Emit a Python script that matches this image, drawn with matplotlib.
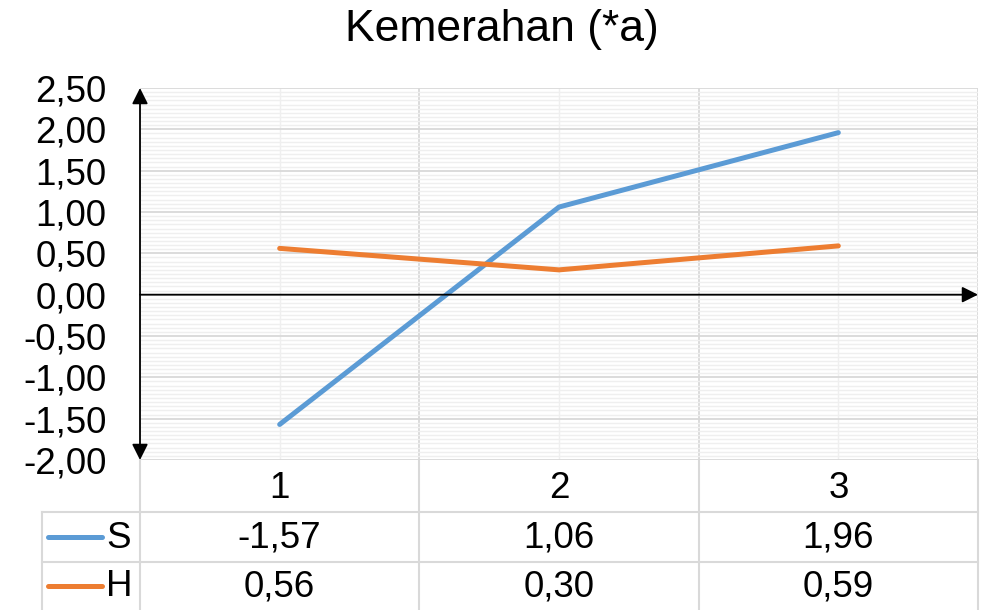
import matplotlib.pyplot as plt
import numpy as np
from matplotlib.ticker import MultipleLocator, FixedLocator, FuncFormatter

plt.rcParams["font.family"] = ["Liberation Sans", "DejaVu Sans"]

title = "Kemerahan (*a)"
categories = ["1", "2", "3"]
series_names = ["S", "H"]
s_values = [-1.57, 1.06, 1.96]
h_values = [0.56, 0.30, 0.59]
colors = ["#5B9BD5", "#ED7D31"]

W, H = 988, 610
fig = plt.figure(figsize=[W / 100, H / 100], dpi=100)
fig.patch.set_facecolor("white")

# plot area in pixels
px_left, px_right, px_top, px_bottom = 140, 978, 88, 460
ax = fig.add_axes([px_left / W, 1 - px_bottom / H,
                   (px_right - px_left) / W, (px_bottom - px_top) / H])

x = np.arange(1, len(categories) + 1)
ax.set_xlim(0.5, len(categories) + 0.5)
ax.set_ylim(-2.0, 2.5)

ax.yaxis.set_major_locator(MultipleLocator(0.5))
ax.yaxis.set_minor_locator(MultipleLocator(0.05))
ax.xaxis.set_major_locator(FixedLocator(np.arange(0.5, len(categories) + 1, 1.0)))
ax.xaxis.set_minor_locator(FixedLocator(x))
ax.grid(which="minor", color="#EFEFEF", linewidth=1.0)
ax.grid(which="major", color="#D9D9D9", linewidth=1.3)
ax.set_axisbelow(True)
ax.yaxis.set_major_formatter(FuncFormatter(lambda v, p: f"{v:.2f}".replace(".", ",")))
ax.tick_params(axis="y", which="both", length=0, labelsize=26.5, pad=24)
ax.tick_params(axis="x", which="both", length=0, labelbottom=False)
for sp in ax.spines.values():
    sp.set_visible(False)

for vals, c in zip([s_values, h_values], colors):
    ax.plot(x, vals, color=c, linewidth=3.6, solid_capstyle="round", zorder=3)

# axes with arrows
ax.annotate("", xy=(0.5, 2.5), xytext=(0.5, -2.0),
            arrowprops=dict(arrowstyle="<|-|>", color="black", lw=1.3,
                            mutation_scale=24, shrinkA=0, shrinkB=0),
            annotation_clip=False, zorder=4)
ax.annotate("", xy=(3.5, 0.0), xytext=(0.5, 0.0),
            arrowprops=dict(arrowstyle="-|>", color="black", lw=1.3,
                            mutation_scale=24, shrinkA=0, shrinkB=0),
            annotation_clip=False, zorder=4)

fig.text(502 / W, 1 - 30 / H, title, fontsize=32, ha="center", va="center")

# data table below the plot, drawn in pixel coordinates
tab = fig.add_axes([0, 0, 1, 1], facecolor="none")
tab.set_xlim(0, W)
tab.set_ylim(H, 0)
tab.set_axis_off()
grid_c = "#D9D9D9"
col_edges = [px_left + i * (px_right - px_left) / len(categories) for i in range(len(categories) + 1)]
row_edges = [px_bottom, 512, 562, H]
key_left = 42
for xe in col_edges:
    tab.plot([xe, xe], [px_bottom, H], color=grid_c, lw=1.5)
tab.plot([key_left, key_left], [row_edges[1], H], color=grid_c, lw=1.5)
for ye in row_edges[1:3]:
    tab.plot([key_left, px_right], [ye, ye], color=grid_c, lw=1.5)

for i, cat in enumerate(categories):
    cx = (col_edges[i] + col_edges[i + 1]) / 2
    tab.text(cx, (row_edges[0] + row_edges[1]) / 2 + 2, cat, ha="center", va="center", fontsize=26.5)

for r, (name, vals, c) in enumerate(zip(series_names, [s_values, h_values], colors)):
    cy = (row_edges[r + 1] + row_edges[r + 2]) / 2
    tab.plot([48, 102], [cy, cy], color=c, lw=3.6, solid_capstyle="round")
    tab.text(106, cy + 1, name, ha="left", va="center", fontsize=26.5)
    for i, v in enumerate(vals):
        cx = (col_edges[i] + col_edges[i + 1]) / 2
        tab.text(cx, cy + 1, f"{v:.2f}".replace(".", ","), ha="center", va="center", fontsize=26.5)

fig.savefig("out.png", dpi=100)
plt.close(fig)
